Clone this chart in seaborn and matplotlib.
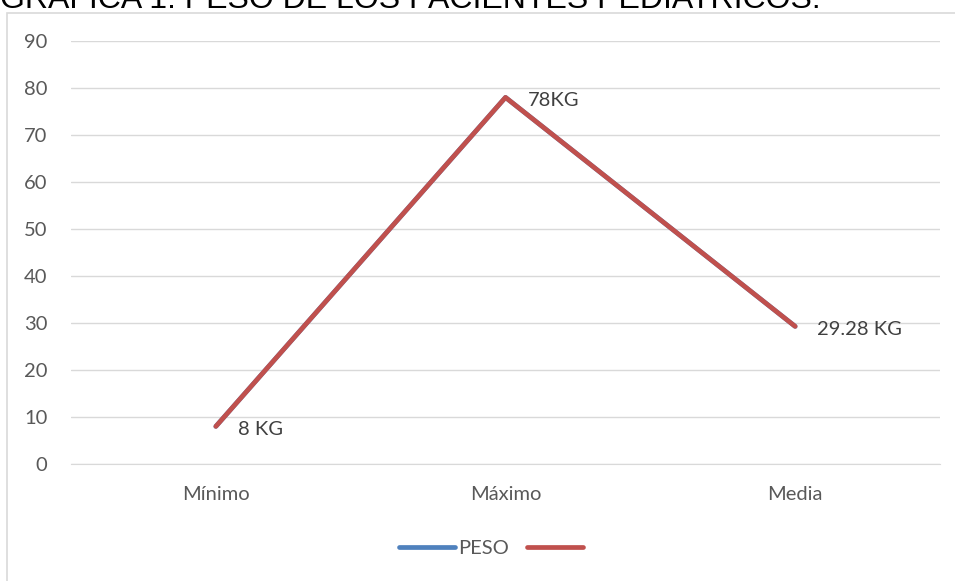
import matplotlib
matplotlib.use("Agg")
import matplotlib.pyplot as plt
import seaborn as sns
import pandas as pd
from matplotlib.patches import Rectangle

# Datos
categorias = ["Mínimo", "Máximo", "Media"]
peso = [8, 78, 29.28]
etiquetas = ["8 KG", "78KG", "29.28 KG"]

df = pd.DataFrame({"cat": categorias, "peso": peso})

sns.set_style("white")
plt.rcParams["font.family"] = ["Lato", "DejaVu Sans"]

fig = plt.figure(figsize=(9.55, 5.81), dpi=100)
ax = fig.add_axes([71 / 955, 1 - 464 / 581, (940 - 71) / 955, (464 - 41) / 581])

# marco del gráfico
fig.patches.append(Rectangle((7 / 955, -0.05), 1.0, 1 - 13 / 581 + 0.05,
                             transform=fig.transFigure, fill=False,
                             edgecolor="#d9d9d9", linewidth=1.2, zorder=0))

# dos series iguales: la azul queda debajo de la roja
sns.lineplot(data=df, x="cat", y="peso", ax=ax, color="#4F81BD", linewidth=3.4,
             sort=False, label="PESO", solid_capstyle="round")
sns.lineplot(data=df, x="cat", y="peso", ax=ax, color="#C0504D", linewidth=3.4,
             sort=False, label=" ", solid_capstyle="round")

for i, (v, t) in enumerate(zip(peso, etiquetas)):
    ax.annotate(t, (i, v), xytext=(16, -2), textcoords="offset points",
                ha="left", va="center", fontsize=14.5, color="#404040")

ax.set_xlim(-0.5, 2.5)
ax.set_ylim(0, 90)
ax.set_yticks(range(0, 91, 10))
ax.yaxis.grid(True, color="#d9d9d9", linewidth=1)
ax.set_axisbelow(True)
for s in ax.spines.values():
    s.set_visible(False)
ax.spines["bottom"].set_visible(True)
ax.spines["bottom"].set_color("#d9d9d9")
ax.tick_params(axis="both", length=0, labelsize=14.5, labelcolor="#595959")
ax.tick_params(axis="y", pad=17)
ax.tick_params(axis="x", pad=16)
ax.set_xlabel("")
ax.set_ylabel("")

leg = ax.legend(loc="center", bbox_to_anchor=(424 / 869, -84 / 423), ncol=2,
                frameon=False, fontsize=14.5, handlelength=2.8, columnspacing=0.9,
                handletextpad=0.15)
for txt in leg.get_texts():
    txt.set_color("#595959")

# título recortado en el borde superior
fig.text(0.0, 1.0, "GRAFICA 1: PESO DE LOS PACIENTES PEDIATRICOS.",
         fontsize=23, family=["Liberation Sans"], ha="left", va="center",
         color="#000000")

fig.savefig("out.png", dpi=100)
